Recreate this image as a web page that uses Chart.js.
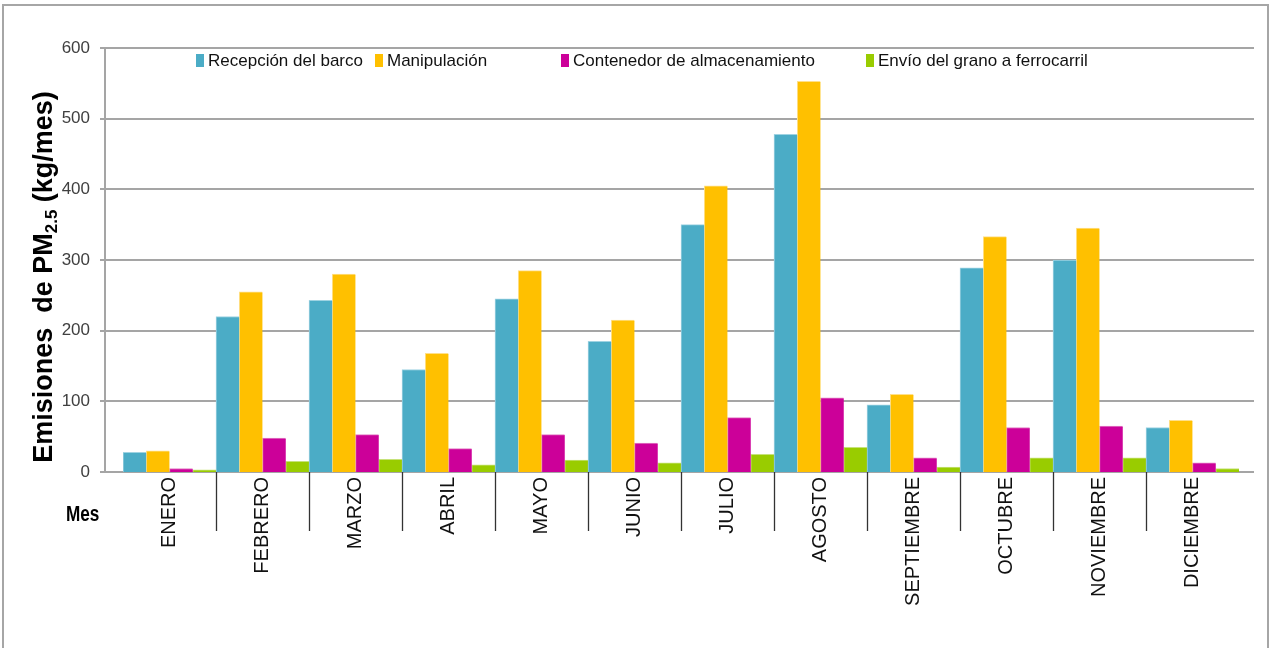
<!DOCTYPE html>
<html><head><meta charset="utf-8">
<script src="https://cdn.jsdelivr.net/npm/chart.js@4"></script>
<style>html,body{margin:0;padding:0;background:#fff;}#wrap{position:absolute;left:0;top:0;width:1271px;height:648px;}</style>
</head><body><div id="wrap"><canvas id="c" width="1271" height="648"></canvas></div>
<script>
const months = ['ENERO','FEBRERO','MARZO','ABRIL','MAYO','JUNIO','JULIO','AGOSTO','SEPTIEMBRE','OCTUBRE','NOVIEMBRE','DICIEMBRE'];
const recepcion = [28, 220, 243, 145, 245, 185, 350, 478, 95, 289, 300, 63];
const manipulacion = [30, 255, 280, 168, 285, 215, 405, 553, 110, 333, 345, 73];
const contenedor = [5, 48, 53, 33, 53, 41, 77, 105, 20, 63, 65, 13];
const envio = [3, 15, 18, 10, 17, 13, 25, 35, 7, 20, 20, 5];
const seriesNames = ['Recepción del barco','Manipulación','Contenedor de almacenamiento','Envío del grano a ferrocarril'];
const yTicks = [0, 100, 200, 300, 400, 500, 600];

const colors = ['#4BACC6','#FFC000','#CC0099','#99CC00'];
const edge = ['#9fd3e2','#ffe08a','#e27cc4','#c6e27a'];

const decor = {
  id:'decor',
  beforeDatasetsDraw(chart){
    const ctx = chart.ctx, y = chart.scales.y, x = chart.scales.x;
    ctx.save();
    ctx.strokeStyle = '#a6a6a6'; ctx.lineWidth = 2;
    ctx.strokeRect(3, 5, 1265, 700);
    ctx.strokeStyle = '#a5a5a5'; ctx.lineWidth = 2;
    yTicks.forEach(v => {
      const py = Math.round(y.getPixelForValue(v));
      ctx.beginPath(); ctx.moveTo(100, py); ctx.lineTo(1254, py); ctx.stroke();
    });
    ctx.beginPath(); ctx.moveTo(105, y.getPixelForValue(600)); ctx.lineTo(105, y.getPixelForValue(0)); ctx.stroke();
    ctx.strokeStyle = '#333'; ctx.lineWidth = 1.3;
    const base = y.getPixelForValue(0);
    for (let i = 1; i < months.length; i++) {
      const px = Math.round((x.getPixelForValue(i-1) + x.getPixelForValue(i)) / 2) + 0.5;
      ctx.beginPath(); ctx.moveTo(px, base); ctx.lineTo(px, base + 59); ctx.stroke();
    }
    ctx.restore();
  },
  afterDraw(chart){
    const ctx = chart.ctx;
    ctx.save();
    const big = 'bold 27px "Liberation Sans", Arial, sans-serif';
    const small = 'bold 17px "Liberation Sans", Arial, sans-serif';
    const p1 = 'Emisiones  de PM', p2 = '2.5', p3 = ' (kg/mes)';
    ctx.font = big; const w1 = ctx.measureText(p1).width, w3 = ctx.measureText(p3).width;
    ctx.font = small; const w2 = ctx.measureText(p2).width;
    const total = w1 + w2 + w3;
    const cy = 277;
    ctx.translate(52, cy); ctx.rotate(-Math.PI/2);
    ctx.fillStyle = '#000'; ctx.textBaseline = 'alphabetic'; ctx.textAlign = 'left';
    let sx = -total/2;
    ctx.font = big; ctx.fillText(p1, sx, 0); sx += w1;
    ctx.font = small; ctx.fillText(p2, sx, 5); sx += w2;
    ctx.font = big; ctx.fillText(p3, sx, 0);
    ctx.setTransform(1,0,0,1,0,0);
    ctx.font = 'bold 22px "Liberation Sans", Arial, sans-serif';
    ctx.translate(66, 521); ctx.scale(0.78, 1);
    ctx.fillText('Mes', 0, 0);
    ctx.setTransform(1,0,0,1,0,0);
    const lx = [196, 375, 561, 866];
    ctx.font = '17px "Liberation Sans", Arial, sans-serif';
    ctx.textBaseline = 'middle';
    chart.data.datasets.forEach((ds, i) => {
      ctx.fillStyle = ds.backgroundColor;
      ctx.fillRect(lx[i], 54, 8, 13);
      ctx.fillStyle = '#111';
      ctx.fillText(ds.label, lx[i] + 12, 61);
    });
    ctx.restore();
  }
};

new Chart(document.getElementById('c'), {
  type: 'bar',
  data: {
    labels: months,
    datasets: [recepcion, manipulacion, contenedor, envio].map((d, i) => ({
      label: seriesNames[i], data: d, backgroundColor: colors[i],
      borderColor: edge[i], borderWidth: {top:1,left:1,right:0,bottom:0},
      barPercentage: 1, categoryPercentage: 1
    }))
  },
  options: {
    responsive: false, animation: false,
    layout: { padding: { left: 0, right: 32, top: 48, bottom: 0 } },
    plugins: { legend: { display: false }, tooltip: { enabled: false } },
    scales: {
      x: {
        grid: { display: false, drawTicks: false }, border: { display: true, color: '#a5a5a5', width: 2 },
        ticks: { autoSkip: false, minRotation: 90, maxRotation: 90, padding: 5, color: '#111',
          font: { family: '"Liberation Sans", Arial, sans-serif', size: 20 } },
        afterFit(s){ s.height = 176; }
      },
      y: {
        min: 0, max: 600,
        grid: { display: false, drawTicks: false }, border: { display: false },
        ticks: { stepSize: 100, padding: 33, color: '#404040',
          font: { family: '"Liberation Sans", Arial, sans-serif', size: 17 } },
        afterFit(s){ s.width = 123; }
      }
    }
  },
  plugins: [decor]
});
</script></body></html>
